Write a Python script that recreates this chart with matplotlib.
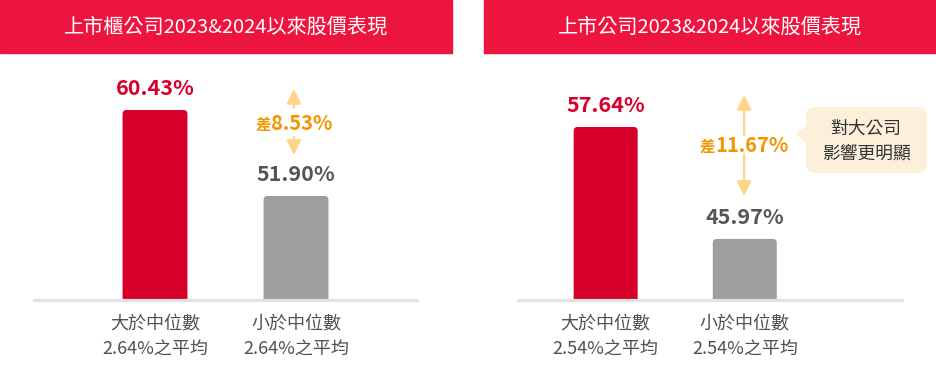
import matplotlib.pyplot as plt
from matplotlib import transforms
from matplotlib.patches import FancyBboxPatch, Rectangle, Polygon
from matplotlib.offsetbox import TextArea, HPacker, AnnotationBbox

plt.rcParams['font.family'] = ['Noto Sans CJK TC', 'DejaVu Sans']

# data
titles = ['上市櫃公司2023&2024以來股價表現', '上市公司2023&2024以來股價表現']
categories = [['大於中位數\n2.64%之平均', '小於中位數\n2.64%之平均'],
              ['大於中位數\n2.54%之平均', '小於中位數\n2.54%之平均']]
above_median = [60.43, 57.64]
below_median = [51.90, 45.97]
gap_values = ['8.53%', '11.67%']
note = '對大公司\n影響更明顯'

RED = '#D7002A'
GRAY = '#9E9E9E'
HEADER = '#EE1440'
ORANGE = '#F29600'
ARROW = '#FFD48A'

W, H = 936, 378
fig = plt.figure(figsize=(W / 100, H / 100), dpi=100)
# pixel coords, origin at top-left
px = transforms.Affine2D().scale(1 / W, -1 / H).translate(0, 1) + fig.transFigure

# panel layout (pixels)
panels = [
    dict(header=(0, 452), axis=(34, 417), xlim=(-0.858, 1.858), ylim=(41.58, 65.39),
         arrow=(89, 108, 137, 155), arrow_x=0.985),
    dict(header=(484, 936), axis=(518, 902), xlim=(-0.63, 2.13), ylim=(39.61, 64.62),
         arrow=(95, 135, 154, 196), arrow_x=0.995),
]
ax_top, ax_bot = 60, 300

for i, p in enumerate(panels):
    # header band
    x0, x1 = p['header']
    fig.patches.append(Rectangle((x0, 0), x1 - x0, 53, transform=px, color=HEADER))
    fig.text((x0 + x1) / 2 / W, 1 - 27 / H, titles[i], color='white', fontsize=14.5,
             ha='center', va='center')

    a0, a1 = p['axis']
    ax = fig.add_axes([a0 / W, 1 - ax_bot / H, (a1 - a0) / W, (ax_bot - ax_top) / H])
    ax.set_xlim(*p['xlim'])
    ax.set_ylim(*p['ylim'])
    for s in ['left', 'right', 'top']:
        ax.spines[s].set_visible(False)
    ax.spines['bottom'].set_color('#E2E2E2')
    ax.spines['bottom'].set_linewidth(2.3)
    ax.spines['bottom'].set_capstyle('round')
    ax.set_yticks([])
    ax.set_xticks([0, 1])
    ax.set_xticklabels(categories[i], fontsize=13, color='#505050', linespacing=1.5)
    ax.tick_params(axis='x', length=0, pad=11)

    vals = [above_median[i], below_median[i]]
    colors = [RED, GRAY]
    bars = ax.bar([0, 1], vals, width=0.46, color=colors, bottom=0)
    # rounded top corners
    fig.canvas.draw()
    xpx = ax.transData.transform([(0, 0), (1, 1)])
    sx = xpx[1, 0] - xpx[0, 0]
    sy = xpx[1, 1] - xpx[0, 1]
    for b in bars:
        b.set_visible(False)
        bx, bw, bh = b.get_x(), b.get_width(), b.get_height()
        y0 = p['ylim'][0] - 2
        rp = FancyBboxPatch((bx, y0), bw, bh - y0,
                            boxstyle='round,pad=0,rounding_size=%f' % (4 / sx),
                            mutation_aspect=sx / sy, color=b.get_facecolor(), lw=0)
        ax.add_patch(rp)
    # value labels
    for xi, (v, c) in enumerate(zip(vals, [RED, '#555555'])):
        ax.annotate('%.2f%%' % v, (xi, v), xytext=(0, 15.5), textcoords='offset points',
                    ha='center', va='center', fontsize=15.5, fontweight='bold', color=c)

    # difference arrows
    t_tip, t_tail, b_tail, b_tip = p['arrow']
    ax_x = p['arrow_x']
    def yfrac(ypix):
        return (ax_bot - ypix) / (ax_bot - ax_top)
    ap = dict(arrowstyle='-|>,head_length=0.8,head_width=0.4', color=ARROW, lw=1.6,
              shrinkA=0, shrinkB=0, mutation_scale=11)
    ax.annotate('', xy=(ax_x, yfrac(t_tip)), xytext=(ax_x, yfrac(t_tail)),
                xycoords=('data', 'axes fraction'), textcoords=('data', 'axes fraction'),
                arrowprops=ap, annotation_clip=False)
    ax.annotate('', xy=(ax_x, yfrac(b_tip)), xytext=(ax_x, yfrac(b_tail)),
                xycoords=('data', 'axes fraction'), textcoords=('data', 'axes fraction'),
                arrowprops=ap, annotation_clip=False)
    label = HPacker(children=[
        TextArea('差', textprops=dict(color=ORANGE, fontsize=11, fontweight='bold')),
        TextArea(gap_values[i], textprops=dict(color=ORANGE, fontsize=14.5, fontweight='bold')),
    ], align='baseline', pad=0, sep=0)
    ab = AnnotationBbox(label, (ax_x, yfrac((t_tail + b_tail) / 2 + 1)),
                        xycoords=('data', 'axes fraction'), frameon=False,
                        box_alignment=(0.5, 0.5), annotation_clip=False)
    ax.add_artist(ab)

# callout bubble on the right panel
fig.patches.append(FancyBboxPatch((806, 107), 121, 66, transform=px,
                                  boxstyle='round,pad=0,rounding_size=9',
                                  color='#FDF0DA', lw=0))
fig.patches.append(Polygon([(807, 125), (796, 134), (807, 143)], closed=True,
                           transform=px, color='#FDF0DA', lw=0))
fig.text(866 / W, 1 - 141 / H, note, color='#333333', fontsize=12.8,
         ha='center', va='center', linespacing=1.45)

fig.savefig('out.png', dpi=100)
